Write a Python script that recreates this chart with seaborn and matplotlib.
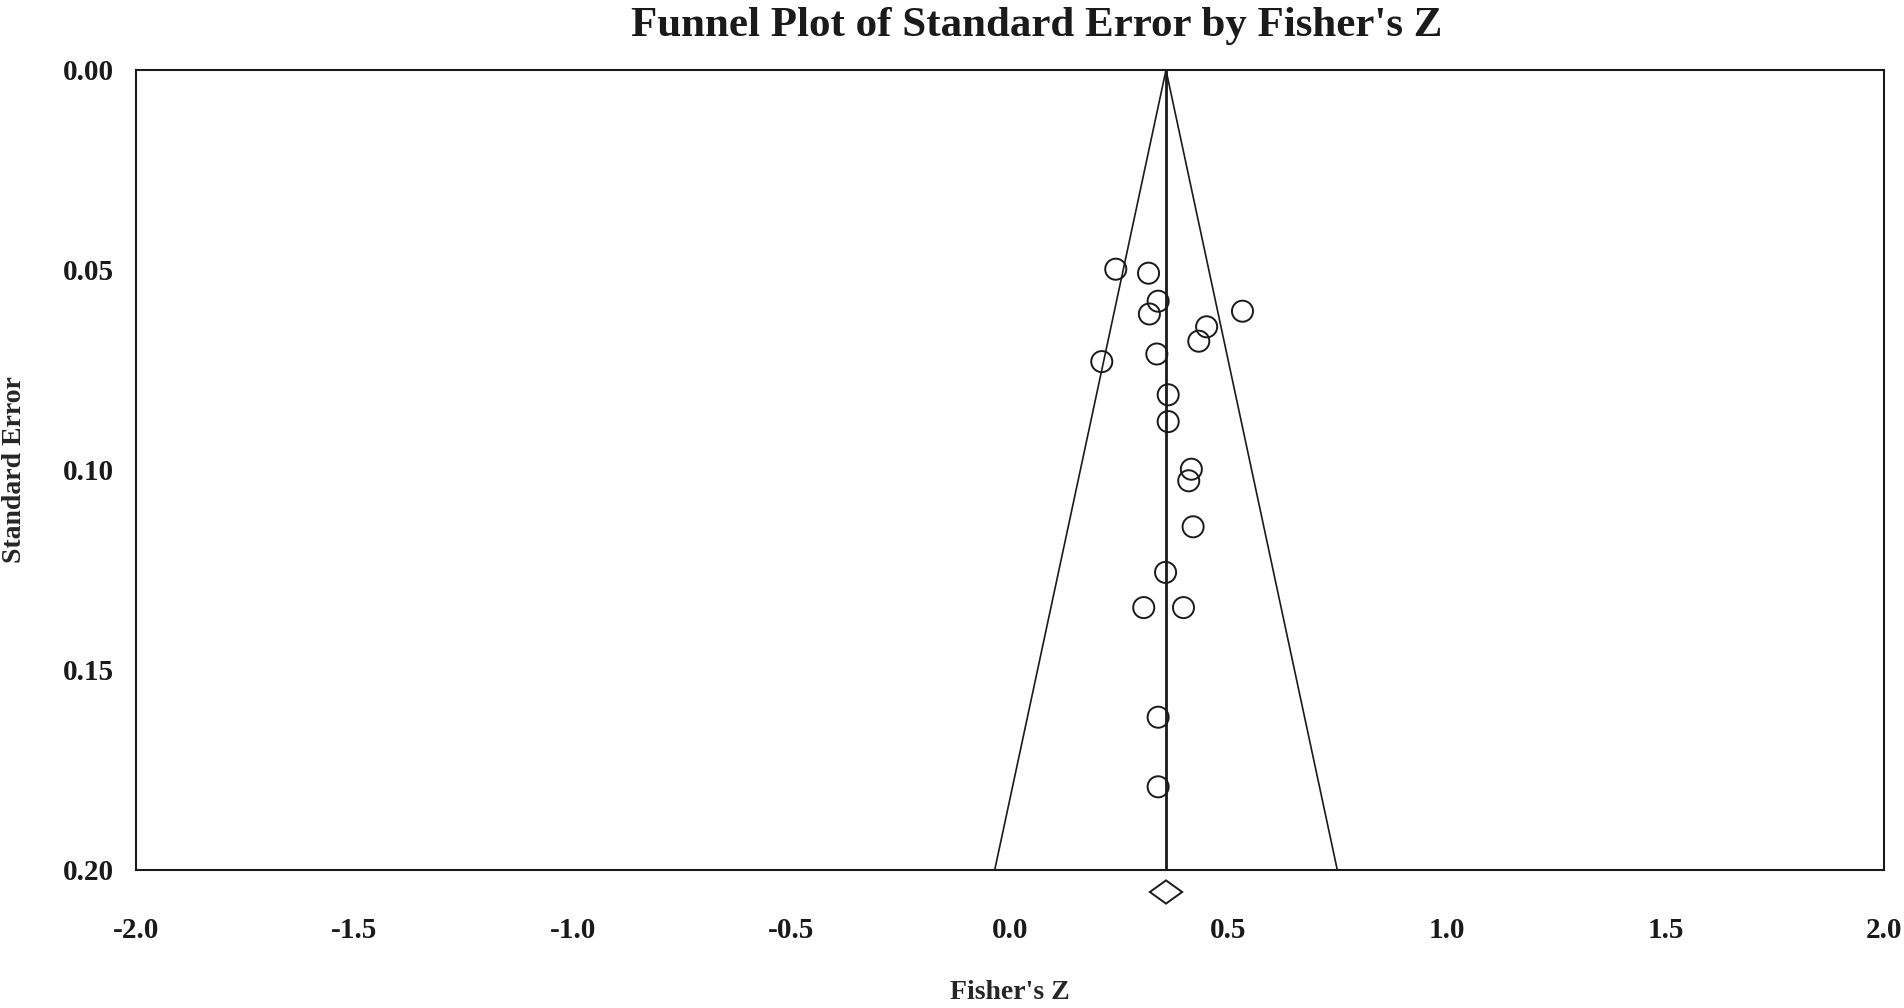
import matplotlib
matplotlib.use("Agg")
import matplotlib.pyplot as plt
import seaborn as sns
import pandas as pd

sns.set_style("white")
plt.rcParams['font.family'] = ['Liberation Serif', 'DejaVu Serif']
plt.rcParams['font.weight'] = 'bold'

# study-level data
fisher_z = [0.242, 0.317, 0.339, 0.319, 0.532, 0.450, 0.432, 0.336, 0.210, 0.362,
            0.362, 0.415, 0.409, 0.419, 0.356, 0.306, 0.397, 0.339, 0.339]
std_err = [0.0498, 0.0508, 0.0578, 0.0610, 0.0603, 0.0642, 0.0678, 0.0710, 0.0729, 0.0812,
           0.0879, 0.0998, 0.1027, 0.1142, 0.1256, 0.1344, 0.1344, 0.1618, 0.1792]

# pooled estimate and its confidence interval
pooled_z = 0.357
pooled_ci = [0.320, 0.394]
diamond_se = 0.2055
diamond_half_h = 0.0029

se_max = 0.20
x_ticks = [-2.0, -1.5, -1.0, -0.5, 0.0, 0.5, 1.0, 1.5, 2.0]
y_ticks = [0.00, 0.05, 0.10, 0.15, 0.20]

df = pd.DataFrame({"z": fisher_z, "se": std_err})

fig = plt.figure(figsize=(19.04, 10.08), dpi=100)
ax = fig.add_axes([136 / 1904, 1 - 870 / 1008, 1748 / 1904, 800 / 1008])

# funnel (95% pseudo confidence limits)
ax.plot([pooled_z - 1.96 * se_max, pooled_z, pooled_z + 1.96 * se_max],
        [se_max, 0, se_max], color='#1a1a1a', lw=1.2)
ax.axvline(pooled_z, color='#1a1a1a', lw=2.0)

sns.scatterplot(data=df, x="z", y="se", ax=ax, s=230, marker='o',
                facecolors='none', edgecolor='#1a1a1a', linewidth=1.4, zorder=3)

# pooled diamond below the axis
ax.fill([pooled_ci[0], pooled_z, pooled_ci[1], pooled_z],
        [diamond_se, diamond_se - diamond_half_h, diamond_se, diamond_se + diamond_half_h],
        facecolor='white', edgecolor='#1a1a1a', lw=1.4, clip_on=False, zorder=4)

ax.set_xlim(-2.0, 2.0)
ax.set_ylim(se_max, 0)
ax.set_xticks(x_ticks)
ax.set_xticklabels([f"{t:.1f}" for t in x_ticks])
ax.set_yticks(y_ticks)
ax.set_yticklabels([f"{t:.2f}" for t in y_ticks])
ax.tick_params(axis='x', direction='inout', length=12, width=1.4, pad=28,
               labelsize=21, colors='#1a1a1a')
ax.tick_params(axis='y', direction='out', length=6, width=1.4, pad=10,
               labelsize=21, colors='#1a1a1a')
for sp in ax.spines.values():
    sp.set_color('#1a1a1a')
    sp.set_linewidth(1.5)

ax.set_xlabel("Fisher's Z", fontsize=20, fontweight='bold', labelpad=26)
ax.set_ylabel("Standard Error", fontsize=20, fontweight='bold')
ax.yaxis.set_label_coords(-0.0625, 0.5)
fig.text(1037 / 1904, 1 - 26 / 1008, "Funnel Plot of Standard Error by Fisher's Z",
         fontsize=31, fontweight='bold', ha='center', va='center', color='#1a1a1a')

plt.savefig("out.png", dpi=100)
